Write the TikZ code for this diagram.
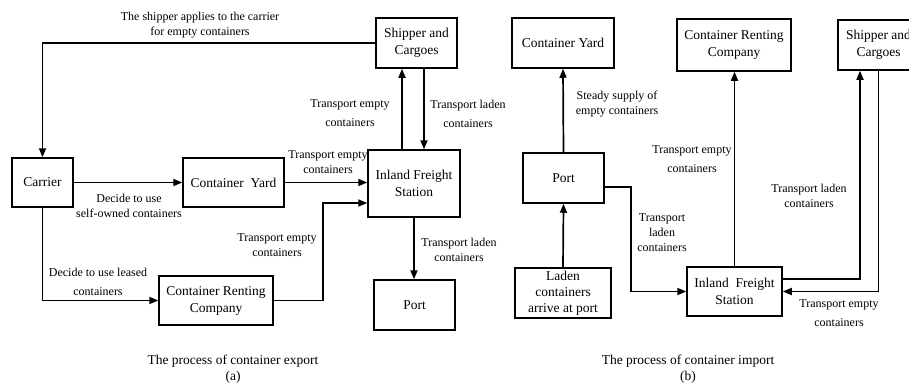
\documentclass[tikz,border=0pt]{standalone}
\usepackage{fontspec}
\setmainfont{Liberation Serif}
\usetikzlibrary{arrows.meta}
\tikzstyle{stage}=[rectangle,draw,line width=1.5pt,align=center,inner sep=0pt,font=\fontsize{13.5}{17}\selectfont]
\tikzstyle{lbl}=[align=center,inner sep=0pt,font=\fontsize{12}{15}\selectfont]
\tikzstyle{lblw}=[align=center,inner sep=0pt,font=\fontsize{12}{19}\selectfont]
\tikzstyle{flow}=[line width=1.7pt,-{Triangle[length=9pt,width=7pt]}]
\tikzstyle{capt}=[align=center,inner sep=0pt,font=\fontsize{13.5}{16}\selectfont]

\begin{document}
\begin{tikzpicture}[x=1pt,y=-1pt]
        \useasboundingbox (0,0) rectangle (909,384);
        % (a) export
        \node[stage,minimum width=81pt,minimum height=50pt] (shipA) at (416.5,43) {Shipper and\\Cargoes};
        \node[stage,minimum width=61pt,minimum height=49pt] (carrier) at (42.5,182.5) {Carrier};
        \node[stage,minimum width=101pt,minimum height=49pt] (yardA) at (233.5,182.5) {Container\ \ Yard};
        \node[stage,minimum width=92pt,minimum height=67pt] (ifsA) at (414,183.5) {Inland Freight\\Station};
        \node[stage,minimum width=114pt,minimum height=49pt] (rentA) at (216,300.5) {Container Renting\\Company};
        \node[stage,minimum width=81pt,minimum height=50pt] (portA) at (414.5,305) {Port};
        \coordinate (jA) at (323,203);

        \draw[flow] (shipA.west) -| (carrier.north);
        \draw[flow] (carrier.east) -- (yardA.west);
        \draw[flow] (yardA.east) -- (yardA.east -| ifsA.west);
        \draw[flow] ([xshift=-12pt]ifsA.north) -- ([xshift=-12pt]ifsA.north |- shipA.south);
        \draw[flow] ([xshift=7.5pt]shipA.south) -- ([xshift=7.5pt]shipA.south |- ifsA.north);
        \draw[flow] (carrier.south) |- (rentA.west);
        \draw[flow] (rentA.east) -| (jA) -- (jA -| ifsA.west);
        \draw[flow] (ifsA.south) -- (ifsA.south |- portA.north);

        \node[lbl] (tApply) at (200,25.5) {The shipper applies to the carrier\\for empty containers};
        \node[lblw] (tUpA) at (350,113) {Transport empty\\containers};
        \node[lblw] (tDownA) at (468,114) {Transport laden\\containers};
        \node[lbl] (tYardA) at (328,162.5) {Transport empty\\containers};
        \node[lbl] (tOwn) at (129,205.5) {Decide to use\\self-owned containers};
        \node[lblw] (tLease) at (98,281.5) {Decide to use leased\\containers};
        \node[lbl] (tRentA) at (277,245.5) {Transport empty\\containers};
        \node[lbl] (tPortA) at (459,249.5) {Transport laden\\containers};
        \node[capt] (captA) at (233,369) {The process of container export\\(a)};

        % (b) import
        \node[stage,minimum width=102pt,minimum height=50pt] (yardB) at (563,43) {Container Yard};
        \node[stage,minimum width=81pt,minimum height=50pt] (portB) at (563.5,178) {Port};
        \node[stage,minimum width=96pt,minimum height=50pt,font=\fontsize{13.5}{16}\selectfont] (ladenB) at (563,293) {Laden\\containers\\arrive at port};
        \node[stage,minimum width=114pt,minimum height=52pt] (rentB) at (734,45) {Container Renting\\Company};
        \node[stage,minimum width=81pt,minimum height=50pt] (shipB) at (878.5,45) {Shipper and\\Cargoes};
        \node[stage,minimum width=95pt,minimum height=49pt] (ifsB) at (734.5,291.5) {Inland\ \ Freight\\Station};
        \coordinate (jB) at (631,291.5);

        \draw[flow] (portB.north) -- (yardB.south);
        \draw[flow] (ladenB.north) -- (portB.south);
        \draw[flow] ([yshift=-9pt]portB.east) -| (jB) -- (ifsB.west);
        \draw[flow] (ifsB.north) -- (ifsB.north |- rentB.south);
        \draw[flow] ([yshift=12.5pt]ifsB.east) -| ([xshift=-18.5pt]shipB.south);
        \draw[flow] (shipB.south) |- (ifsB.east);

        \node[lbl] (tSupply) at (617,104.5) {Steady supply of\\empty containers};
        \node[lbl] (tLadenB) at (662,233) {Transport\\laden\\containers};
        \node[lblw] (tRentB) at (692,159) {Transport empty\\containers};
        \node[lbl] (tShipB) at (809,195.5) {Transport laden\\containers};
        \node[lblw] (tBackB) at (839,313.5) {Transport empty\\containers};
        \node[capt] (captB) at (688,369) {The process of container import\\(b)};
\end{tikzpicture}
\end{document}
